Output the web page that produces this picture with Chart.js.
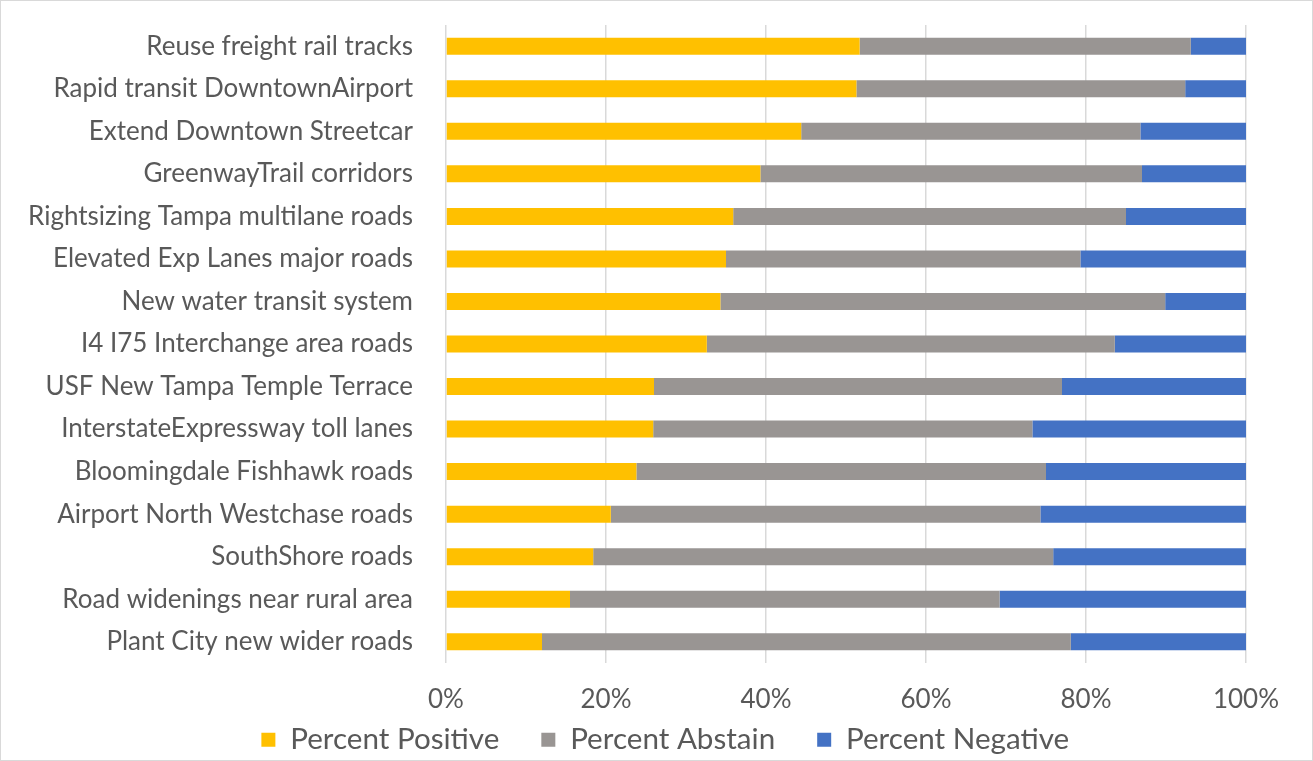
<!DOCTYPE html>
<html>
<head>
<meta charset="utf-8">
<script src="https://cdn.jsdelivr.net/npm/chart.js@4.4.1/dist/chart.umd.min.js"></script>
<style>
  html, body { margin: 0; padding: 0; background: #ffffff; }
  #wrap { position: absolute; left: 0; top: 0; width: 1311px; height: 759px; border: 1px solid #d9d9d9; background: #fff; }
  canvas { display: block; }
</style>
</head>
<body>
<div id="wrap"><canvas id="c" width="1311" height="759"></canvas></div>
<script>
const categories = [
  "Reuse freight rail tracks",
  "Rapid transit DowntownAirport",
  "Extend Downtown Streetcar",
  "GreenwayTrail corridors",
  "Rightsizing Tampa multilane roads",
  "Elevated Exp Lanes major roads",
  "New water transit system",
  "I4 I75 Interchange area roads",
  "USF New Tampa Temple Terrace",
  "InterstateExpressway toll lanes",
  "Bloomingdale Fishhawk roads",
  "Airport North Westchase roads",
  "SouthShore roads",
  "Road widenings near rural area",
  "Plant City new wider roads"
];
const percentPositive = [51.7, 51.3, 44.4, 39.3, 35.9, 35.0, 34.3, 32.6, 26.0, 25.9, 23.8, 20.6, 18.4, 15.5, 12.0];
const percentAbstain  = [41.4, 41.1, 42.4, 47.7, 49.1, 44.3, 55.6, 51.0, 51.0, 47.4, 51.2, 53.7, 57.5, 53.7, 66.1];
const percentNegative = [6.9, 7.6, 13.2, 13.0, 15.0, 20.7, 10.1, 16.4, 23.0, 26.7, 25.0, 25.7, 24.1, 30.8, 21.9];
const tickStep = 20;

const FONT = "Lato";
const TXT = "#595959";

new Chart(document.getElementById("c"), {
  type: "bar",
  data: {
    labels: categories,
    datasets: [
      { label: "Percent Positive", data: percentPositive, backgroundColor: "#FFC000" },
      { label: "Percent Abstain",  data: percentAbstain,  backgroundColor: "#999593" },
      { label: "Percent Negative", data: percentNegative, backgroundColor: "#4472C4" }
    ]
  },
  options: {
    indexAxis: "y",
    responsive: false,
    animation: false,
    maintainAspectRatio: false,
    layout: { padding: { left: 20.5, right: 3, top: 24, bottom: 0 } },
    datasets: { bar: { categoryPercentage: 1.0, barPercentage: 0.4 } },
    scales: {
      x: {
        stacked: true,
        min: 0, max: 100,
        ticks: { stepSize: tickStep, callback: (v) => v + "%", color: TXT, font: { family: FONT, size: 26 }, padding: 21, maxRotation: 0, autoSkip: false },
        grid: { color: "#d9d9d9", lineWidth: 1.5, drawTicks: false },
        border: { display: false },
        afterFit: (s) => {
          s.height = 20;
          s.paddingRight = 66;
          s._computeLabelArea = () => undefined;
        }
      },
      y: {
        stacked: true,
        ticks: { color: TXT, font: { family: FONT, size: 26 }, padding: 33, autoSkip: false },
        grid: { display: false, drawTicks: false },
        border: { display: false },
        afterFit: (s) => {
          s.width = 424.5;
          s.paddingTop = 0;
          s.paddingBottom = 0;
          s._computeLabelArea = () => undefined;
        }
      }
    },
    plugins: {
      legend: {
        position: "bottom",
        maxHeight: 77,
        labels: { color: TXT, font: { family: FONT, size: 29.6 }, boxWidth: 14, boxHeight: 14, padding: 42 }
      },
      tooltip: { enabled: false }
    }
  }
});
</script>
</body>
</html>
